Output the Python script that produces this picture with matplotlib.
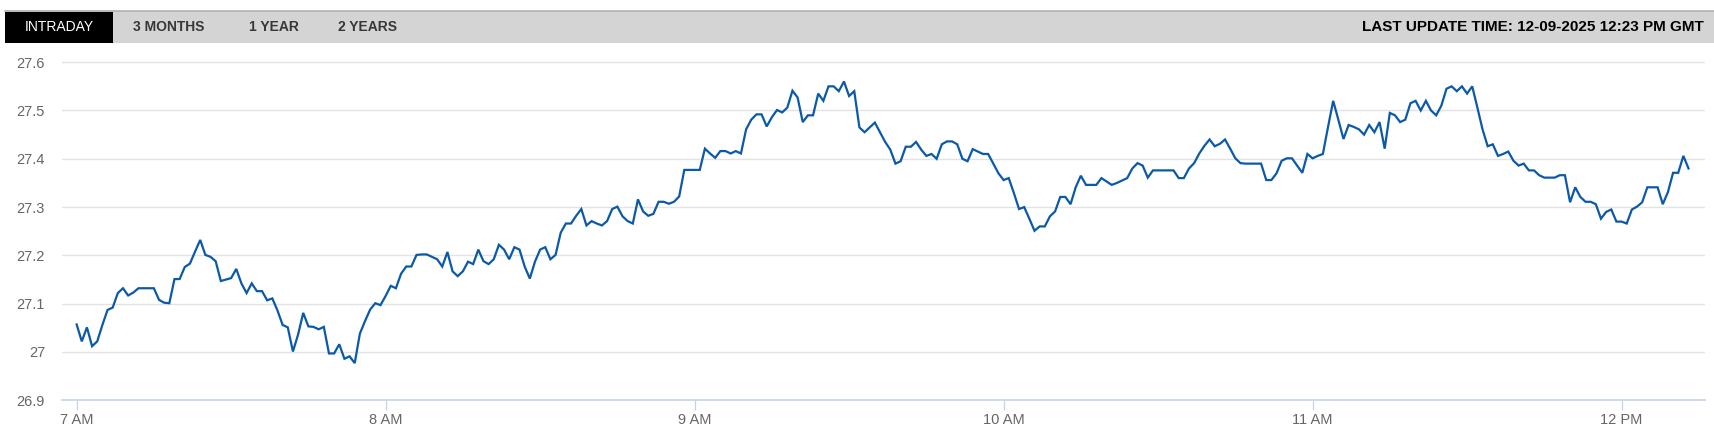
import matplotlib
matplotlib.use("Agg")
import matplotlib.pyplot as plt
import pandas as pd
from matplotlib.patches import Rectangle
from matplotlib.lines import Line2D

plt.rcParams['font.family'] = ['Liberation Sans', 'DejaVu Sans']

# ---------------- data ----------------
session_start = "2025-09-12 07:00"   # one price per minute from here
prices = [
    27.057, 27.022, 27.051, 27.012, 27.022, 27.056, 27.087, 27.092, 27.122, 27.132,
    27.117, 27.123, 27.132, 27.132, 27.132, 27.132, 27.108, 27.102, 27.101, 27.151,
    27.151, 27.176, 27.183, 27.208, 27.232, 27.201, 27.197, 27.188, 27.147, 27.150,
    27.153, 27.172, 27.142, 27.122, 27.142, 27.126, 27.126, 27.107, 27.111, 27.086,
    27.056, 27.051, 27.001, 27.036, 27.081, 27.053, 27.052, 27.047, 27.052, 26.997,
    26.997, 27.016, 26.986, 26.991, 26.977, 27.038, 27.064, 27.088, 27.101, 27.097,
    27.116, 27.137, 27.132, 27.162, 27.177, 27.177, 27.201, 27.202, 27.202, 27.197,
    27.192, 27.177, 27.207, 27.167, 27.157, 27.167, 27.187, 27.182, 27.212, 27.188,
    27.182, 27.192, 27.222, 27.212, 27.192, 27.217, 27.212, 27.177, 27.152, 27.187,
    27.212, 27.217, 27.192, 27.201, 27.247, 27.266, 27.266, 27.282, 27.296, 27.262,
    27.271, 27.266, 27.262, 27.271, 27.296, 27.301, 27.281, 27.271, 27.266, 27.316,
    27.291, 27.282, 27.286, 27.311, 27.311, 27.307, 27.311, 27.322, 27.377, 27.377,
    27.377, 27.377, 27.421, 27.411, 27.402, 27.416, 27.416, 27.411, 27.416, 27.411,
    27.461, 27.481, 27.492, 27.492, 27.467, 27.486, 27.501, 27.496, 27.506, 27.541,
    27.527, 27.476, 27.490, 27.490, 27.535, 27.520, 27.550, 27.550, 27.540, 27.560,
    27.530, 27.540, 27.465, 27.455, 27.465, 27.475, 27.455, 27.435, 27.419, 27.390,
    27.395, 27.425, 27.425, 27.435, 27.419, 27.406, 27.410, 27.400, 27.430, 27.436,
    27.436, 27.430, 27.400, 27.395, 27.420, 27.415, 27.410, 27.410, 27.390, 27.370,
    27.356, 27.360, 27.329, 27.296, 27.300, 27.276, 27.251, 27.260, 27.260, 27.281,
    27.291, 27.321, 27.321, 27.306, 27.341, 27.365, 27.346, 27.346, 27.346, 27.360,
    27.353, 27.346, 27.350, 27.355, 27.360, 27.380, 27.391, 27.386, 27.361, 27.376,
    27.376, 27.376, 27.376, 27.376, 27.360, 27.360, 27.380, 27.391, 27.411, 27.427,
    27.440, 27.426, 27.431, 27.440, 27.421, 27.401, 27.391, 27.390, 27.390, 27.390,
    27.390, 27.356, 27.356, 27.370, 27.396, 27.401, 27.401, 27.386, 27.371, 27.410,
    27.401, 27.406, 27.410, 27.466, 27.520, 27.481, 27.441, 27.470, 27.466, 27.461,
    27.450, 27.470, 27.455, 27.476, 27.421, 27.495, 27.490, 27.476, 27.481, 27.515,
    27.520, 27.500, 27.520, 27.500, 27.490, 27.510, 27.545, 27.550, 27.540, 27.550,
    27.535, 27.550, 27.506, 27.461, 27.426, 27.430, 27.406, 27.410, 27.415, 27.396,
    27.386, 27.390, 27.376, 27.376, 27.366, 27.361, 27.361, 27.361, 27.366, 27.366,
    27.310, 27.341, 27.321, 27.311, 27.311, 27.306, 27.276, 27.290, 27.295, 27.270,
    27.270, 27.266, 27.295, 27.301, 27.310, 27.341, 27.341, 27.341, 27.306, 27.331,
    27.371, 27.371, 27.406, 27.380,
]
y_ticks = [26.9, 27.0, 27.1, 27.2, 27.3, 27.4, 27.5, 27.6]
y_tick_labels = ["26.9", "27", "27.1", "27.2", "27.3", "27.4", "27.5", "27.6"]
x_tick_times = ["2025-09-12 07:00", "2025-09-12 08:00", "2025-09-12 09:00",
                "2025-09-12 10:00", "2025-09-12 11:00", "2025-09-12 12:00"]
x_tick_labels = ["7 AM", "8 AM", "9 AM", "10 AM", "11 AM", "12 PM"]
tabs = ["INTRADAY", "3 MONTHS", "1 YEAR", "2 YEARS"]
update_text = "LAST UPDATE TIME: 12-09-2025 12:23 PM GMT"

times = pd.date_range(session_start, periods=len(prices), freq="min")

# ---------------- figure ----------------
W, H = 1715, 444
fig = plt.figure(figsize=(W / 100, H / 100), dpi=100)
fig.patch.set_facecolor("white")

y_lo, y_hi = 26.9, 27.62
px_per_unit = 483.0
ax_bottom_px = 400.3
ax_top_px = ax_bottom_px - (y_hi - y_lo) * px_per_unit
ax_left_px, ax_right_px = 61.7, 1705.0
ax = fig.add_axes([ax_left_px / W, 1 - ax_bottom_px / H,
                   (ax_right_px - ax_left_px) / W, (ax_bottom_px - ax_top_px) / H])

ax.plot(times, prices, color="#0b59a8", lw=1.6, solid_joinstyle="miter", zorder=3)

t0 = pd.Timestamp(session_start)
ax.set_xlim(t0 - pd.Timedelta(minutes=2.9), t0 + pd.Timedelta(minutes=316.2))
ax.set_ylim(y_lo, y_hi)

ax.set_yticks(y_ticks)
ax.set_yticklabels(y_tick_labels)
ax.set_xticks(pd.to_datetime(x_tick_times))
ax.set_xticklabels(x_tick_labels)

ax.yaxis.grid(True, color="#e3e3e3", lw=1.0)
ax.xaxis.grid(False)
ax.set_axisbelow(True)
for s in ["left", "right", "top"]:
    ax.spines[s].set_visible(False)
ax.spines["bottom"].set_color("#c5d3e8")
ax.spines["bottom"].set_linewidth(1.2)

ax.tick_params(axis="y", length=0, pad=12, labelsize=10.5, labelcolor="#666666")
ax.tick_params(axis="x", length=7.5, width=0.9, color="#c5d3e8", pad=1.5,
               labelsize=10.5, labelcolor="#666666")

# ---------------- top bar ----------------
bar_top, bar_bot = 11.3, 42.7
fig.patches.append(Rectangle((5 / W, 1 - bar_bot / H), 1 - 5 / W, (bar_bot - bar_top) / H,
                             transform=fig.transFigure, facecolor="#d4d4d4",
                             edgecolor="none", zorder=0))
fig.lines.append(Line2D([5 / W, 1], [1 - bar_top / H, 1 - bar_top / H],
                        transform=fig.transFigure, color="#b2b2b2", lw=1.2))
fig.patches.append(Rectangle((5 / W, 1 - bar_bot / H), 108 / W, (bar_bot - 12) / H,
                             transform=fig.transFigure, facecolor="black",
                             edgecolor="none", zorder=1))

text_y = 1 - 27.2 / H
fig.text(59 / W, text_y, tabs[0], color="white", ha="center", va="center",
         fontsize=10, zorder=2)
for label, xpx in zip(tabs[1:], [133, 249, 338]):
    fig.text(xpx / W, text_y, label, color="#383838", ha="left", va="center",
             fontsize=10, fontweight="bold", zorder=2)
fig.text(1704 / W, text_y, update_text, color="black", ha="right", va="center",
         fontsize=11, fontweight="bold", zorder=2)

fig.savefig("out.png", dpi=100, facecolor="white")
